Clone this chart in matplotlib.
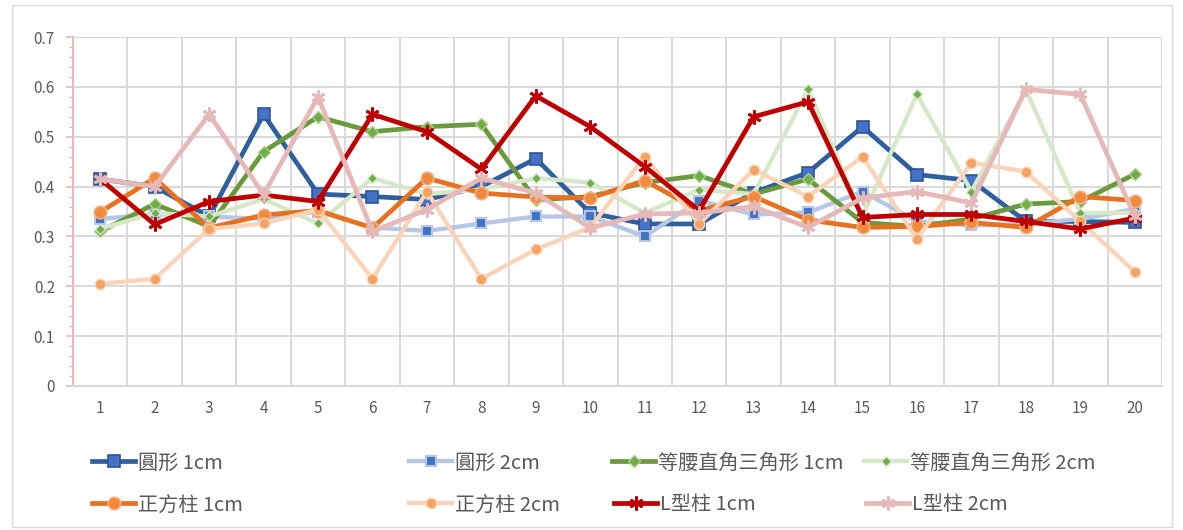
import matplotlib
matplotlib.use("Agg")
import matplotlib.pyplot as plt
from matplotlib.lines import Line2D
from matplotlib.patches import Rectangle
from matplotlib.ticker import MultipleLocator

plt.rcParams['font.family'] = ['Noto Sans CJK TC', 'DejaVu Sans']

# 測量點編號
points = list(range(1, 21))

circle_1cm = [0.415, 0.40, 0.34, 0.545, 0.385, 0.38, 0.374, 0.40, 0.456, 0.347,
              0.325, 0.325, 0.388, 0.428, 0.52, 0.424, 0.412, 0.33, 0.33, 0.328]
circle_2cm = [0.335, 0.345, 0.34, 0.335, 0.35, 0.318, 0.311, 0.326, 0.34, 0.34,
              0.30, 0.372, 0.344, 0.348, 0.39, 0.33, 0.322, 0.325, 0.335, 0.355]
tri_1cm = [0.31, 0.365, 0.32, 0.47, 0.54, 0.51, 0.52, 0.525, 0.373, 0.38,
           0.408, 0.422, 0.385, 0.415, 0.328, 0.32, 0.335, 0.365, 0.37, 0.425]
tri_2cm = [0.315, 0.347, 0.34, 0.375, 0.326, 0.417, 0.385, 0.394, 0.417, 0.408,
           0.347, 0.394, 0.385, 0.595, 0.34, 0.585, 0.39, 0.595, 0.347, 0.347]
square_1cm = [0.349, 0.417, 0.317, 0.343, 0.352, 0.317, 0.417, 0.387, 0.379, 0.377,
              0.412, 0.352, 0.38, 0.333, 0.318, 0.32, 0.328, 0.318, 0.38, 0.372]
square_2cm = [0.205, 0.215, 0.315, 0.326, 0.354, 0.215, 0.39, 0.215, 0.274, 0.318,
              0.46, 0.325, 0.434, 0.38, 0.46, 0.295, 0.448, 0.43, 0.33, 0.229]
lshape_1cm = [0.415, 0.324, 0.37, 0.383, 0.37, 0.545, 0.51, 0.435, 0.582, 0.52,
              0.44, 0.352, 0.54, 0.57, 0.338, 0.344, 0.344, 0.33, 0.315, 0.337]
lshape_2cm = [0.415, 0.40, 0.545, 0.384, 0.58, 0.31, 0.354, 0.417, 0.387, 0.317,
              0.345, 0.347, 0.36, 0.318, 0.377, 0.39, 0.367, 0.595, 0.585, 0.34]

labels = ['圓形 1cm', '圓形 2cm', '等腰直角三角形 1cm', '等腰直角三角形 2cm',
          '正方柱 1cm', '正方柱 2cm', 'L型柱 1cm', 'L型柱 2cm']
series = [circle_1cm, circle_2cm, tri_1cm, tri_2cm,
          square_1cm, square_2cm, lshape_1cm, lshape_2cm]

star = (6, 2, 0)
styles = [
    dict(color='#2F5F9E', lw=3.4, marker='s', ms=8, mfc='#4472C4', mec='#2F5597', mew=1.2),
    dict(color='#B4C7E7', lw=3.1, marker='s', ms=7, mfc='#4472C4', mec='#B4C7E7', mew=1.5),
    dict(color='#6A9A3C', lw=3.4, marker='D', ms=6.5, mfc='#70AD47', mec='#A9D18E', mew=1.0),
    dict(color='#D5E8C8', lw=3.1, marker='D', ms=5.5, mfc='#70AD47', mec='#D5E8C8', mew=1.0),
    dict(color='#E8711F', lw=3.4, marker='o', ms=9, mfc='#F08A3C', mec='#F4B183', mew=1.2),
    dict(color='#FAD3B8', lw=3.1, marker='o', ms=7.5, mfc='#F4A460', mec='#FAD3B8', mew=1.0),
    dict(color='#C00000', lw=3.4, marker=star, ms=10, mfc='none', mec='#C00000', mew=2.0),
    dict(color='#E6B9B8', lw=3.4, marker=star, ms=10, mfc='none', mec='#E6B9B8', mew=2.0),
]

fig = plt.figure(figsize=(11.83, 5.30), dpi=100)
ax = fig.add_axes([73 / 1183, 1 - 386 / 530, (1162 - 73) / 1183, (386 - 37) / 530])

for vals, st in zip(series, styles):
    ax.plot(points, vals, solid_joinstyle='miter', **st, zorder=3)

ax.set_xlim(0.5, 20.5)
ax.set_ylim(0, 0.7)

# 格線：水平主格線與類別之間的垂直線
grid_c = '#D9D9D9'
ax.set_yticks([i / 10 for i in range(8)])
ax.set_yticklabels(['0'] + [f'{i / 10:.1f}' for i in range(1, 8)])
ax.yaxis.set_minor_locator(MultipleLocator(0.02))
ax.set_xticks(points)
ax.set_xticklabels([str(p) for p in points])
for v in [i / 10 for i in range(1, 8)]:
    ax.axhline(v, color=grid_c, lw=1.4, zorder=1)
for b in range(1, 21):
    ax.axvline(b + 0.5, color=grid_c, lw=1.4, zorder=1)

for side in ['top', 'right']:
    ax.spines[side].set_visible(False)
ax.spines['bottom'].set_color(grid_c)
ax.spines['bottom'].set_linewidth(1.4)
ax.spines['left'].set_color('#E6B9B8')
ax.spines['left'].set_linewidth(1.4)

ax.tick_params(axis='y', which='major', length=5, width=1.2, color='#E6B9B8',
               labelsize=11, labelcolor='#595959', pad=8)
ax.tick_params(axis='y', which='minor', length=3, width=1.0, color='#E6B9B8')
ax.tick_params(axis='x', length=0, labelsize=11, labelcolor='#595959', pad=10)

# 圖例：兩列四欄
legend_pos = [(92, 463), (409, 463), (612, 463), (864, 463),
              (92, 505), (409, 505), (614, 505), (866, 505)]
for (px, py), lab, st in zip(legend_pos, labels, styles):
    h = Line2D([], [], **st)
    fig.legend([h], [lab], loc='center left',
               bbox_to_anchor=(px / 1183, 1 - py / 530),
               frameon=False, fontsize=14.5, handlelength=2.15,
               handletextpad=0.15, borderpad=0, borderaxespad=0,
               labelcolor='#595959')

fig.patches.append(Rectangle((12 / 1183, 3 / 530), 1160 / 1183, 522 / 530,
                             transform=fig.transFigure, fill=False,
                             edgecolor='#D9D9D9', lw=1.0))

fig.savefig('out.png', dpi=100)
